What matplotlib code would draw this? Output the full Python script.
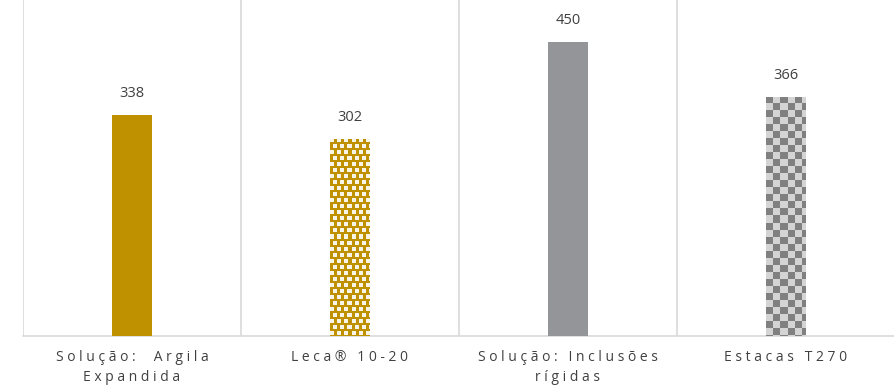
import numpy as np
import matplotlib.pyplot as plt

categories = ['Solução:  Argila\nExpandida', 'Leca® 10-20', 'Solução: Inclusões\nrígidas', 'Estacas T270']
values = [338, 302, 450, 366]

plt.rcParams['font.family'] = ['Open Sans', 'DejaVu Sans']

def spaced(s):
    # imitate the wide letter spacing of the original labels
    return '\n'.join('\u2009\u200a'.join(line) for line in s.split('\n'))

fig = plt.figure(figsize=(8.95, 3.9), dpi=100)
ax = fig.add_axes([23 / 895, 54 / 390, 872 / 895, 336 / 390])
ax.set_xlim(-0.5, 3.5)
ax.set_ylim(0, 514)

x = np.arange(len(values))
colors = ['#BF9000', '#BF9000', '#939598', '#808080']
bars = ax.bar(x, values, width=0.18, color=colors, zorder=3)

def texture(bar, kind):
    x0, y0 = bar.get_x(), bar.get_y()
    x1, y1 = x0 + bar.get_width(), y0 + bar.get_height()
    p0 = ax.transData.transform((x0, y0))
    p1 = ax.transData.transform((x1, y1))
    w = int(round(p1[0] - p0[0]))
    h = int(round(p1[1] - p0[1]))
    yy, xx = np.mgrid[0:h, 0:w]
    img = np.zeros((h, w, 3))
    if kind == 'check':
        c = 7
        m = ((xx // c) + (yy // c)) % 2 == 0
        img[:] = np.array([0xD4, 0xD4, 0xD4]) / 255
        img[m] = np.array([0x80, 0x80, 0x80]) / 255
    else:
        img[:] = np.array([0xBF, 0x90, 0x00]) / 255
        row = yy // 6
        shift = (row % 2) * 4
        m = (((xx + shift) % 7) < 4) & ((yy % 6) < 4)
        img[m] = np.array([0xF8, 0xF4, 0xE6]) / 255
    im = ax.imshow(img, extent=(x0, x1, y0, y1), aspect='auto',
                   interpolation='nearest', zorder=4)
    im.set_clip_path(bar)

texture(bars[1], 'dots')
texture(bars[3], 'check')
ax.set_xlim(-0.5, 3.5)
ax.set_ylim(0, 514)

for xi, v in zip(x, values):
    ax.text(xi, v + 21, str(v), ha='center', va='bottom', fontsize=10.5, color='#404040')

for b in np.arange(-0.5, 4.0, 1.0):
    ax.axvline(b, color='#D9D9D9', lw=1.2, zorder=1)

for s in ['top', 'right', 'left']:
    ax.spines[s].set_visible(False)
ax.spines['bottom'].set_color('#D9D9D9')
ax.spines['bottom'].set_linewidth(1.2)
ax.set_yticks([])
ax.set_xticks(x)
ax.set_xticklabels([spaced(c) for c in categories], fontsize=10, color='#404040', linespacing=1.45)
ax.tick_params(axis='x', length=0, pad=10)

fig.savefig('out.png', dpi=100)
